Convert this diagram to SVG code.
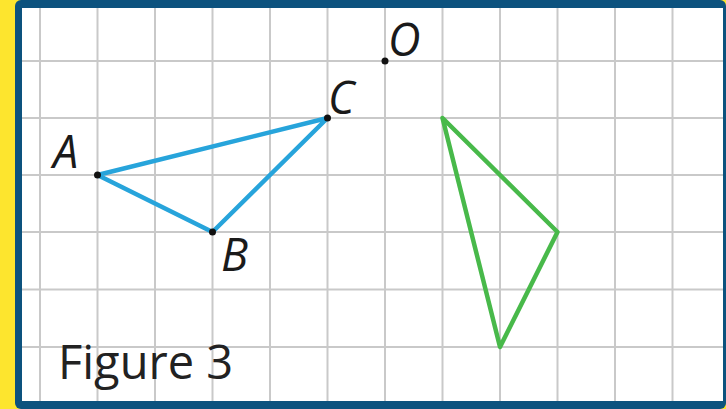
<svg xmlns="http://www.w3.org/2000/svg" width="726" height="409" viewBox="0 0 726 409">
  <style>
    .grid line { stroke: #c9c9c9; stroke-width: 2; }
    .lbl { font-family: "Open Sans", "Noto Sans", sans-serif; font-style: italic; font-size: 45px; fill: #1a1a1a; }
    .cap { font-family: "Open Sans", "Noto Sans", sans-serif; font-size: 47px; fill: #222; }
    .pt { fill: #111; }
    .blue { fill: none; stroke: #27a4db; stroke-width: 4.5; stroke-linejoin: round; }
    .green { fill: none; stroke: #48b94a; stroke-width: 4.5; stroke-linejoin: round; }
  </style>
  <defs>
    <clipPath id="inner"><rect x="22" y="8" width="701" height="393"/></clipPath>
  </defs>
  <rect x="0" y="0" width="726" height="409" fill="#fde52e"/>
  <rect x="15" y="0" width="711" height="409" rx="6" fill="#0c527e"/>
  <rect x="22" y="8" width="701" height="393" fill="#ffffff"/>
  <g class="grid" clip-path="url(#inner)">
    <line x1="40" y1="0" x2="40" y2="409"/>
    <line x1="97.5" y1="0" x2="97.5" y2="409"/>
    <line x1="155" y1="0" x2="155" y2="409"/>
    <line x1="212.5" y1="0" x2="212.5" y2="409"/>
    <line x1="270" y1="0" x2="270" y2="409"/>
    <line x1="327.5" y1="0" x2="327.5" y2="409"/>
    <line x1="385" y1="0" x2="385" y2="409"/>
    <line x1="442.5" y1="0" x2="442.5" y2="409"/>
    <line x1="500" y1="0" x2="500" y2="409"/>
    <line x1="557.5" y1="0" x2="557.5" y2="409"/>
    <line x1="615" y1="0" x2="615" y2="409"/>
    <line x1="672.5" y1="0" x2="672.5" y2="409"/>
    <line x1="0" y1="61" x2="726" y2="61"/>
    <line x1="0" y1="118" x2="726" y2="118"/>
    <line x1="0" y1="175" x2="726" y2="175"/>
    <line x1="0" y1="232" x2="726" y2="232"/>
    <line x1="0" y1="289.5" x2="726" y2="289.5"/>
    <line x1="0" y1="347" x2="726" y2="347"/>
  </g>
  <g id="triangle-ABC">
    <polygon class="blue" points="97.5,175 327.5,118 212.5,232"/>
  </g>
  <g id="triangle-image">
    <polygon class="green" points="442.5,118 557.5,232 500,347"/>
  </g>
  <g id="point-A"><circle class="pt" cx="97.5" cy="175" r="3.5"/><text class="lbl" x="53" y="168">A</text></g>
  <g id="point-B"><circle class="pt" cx="212.5" cy="232" r="3.5"/><text class="lbl" x="221" y="271">B</text></g>
  <g id="point-C"><circle class="pt" cx="327.5" cy="118" r="3.5"/><text class="lbl" x="328" y="114">C</text></g>
  <g id="point-O"><circle class="pt" cx="385" cy="61" r="3.5"/><text class="lbl" x="388" y="56">O</text></g>
  <g id="caption"><text class="cap" x="58" y="379">Figure 3</text></g>
</svg>
